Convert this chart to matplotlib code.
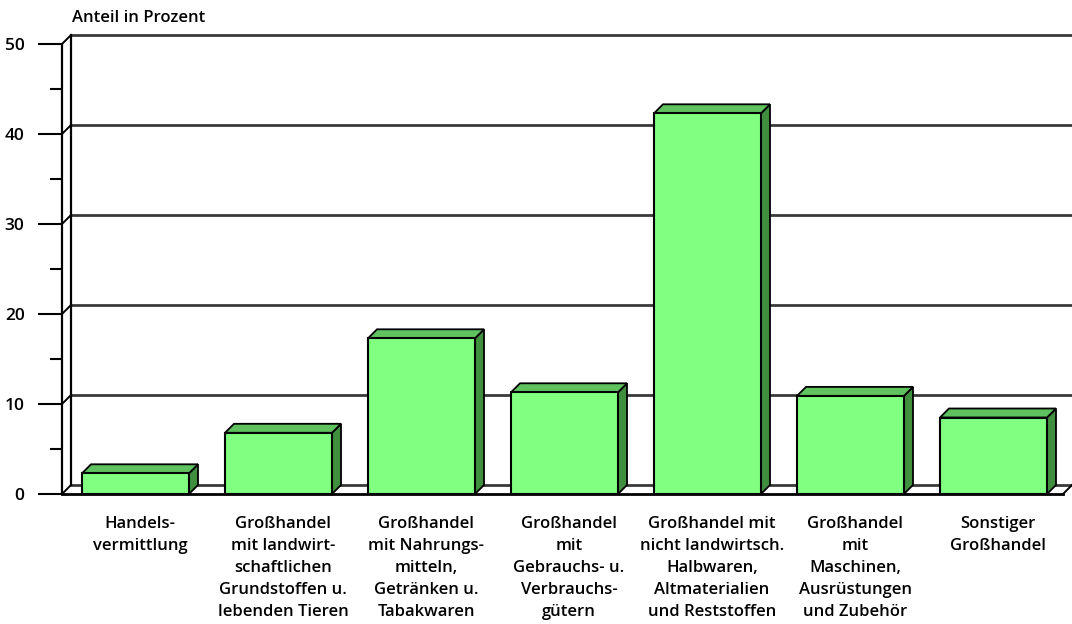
import numpy as np
import matplotlib
matplotlib.use('Agg')
import matplotlib.pyplot as plt
from matplotlib.patches import Polygon, Rectangle

# Anteil in Prozent je Großhandelszweig
categories = [
    'Handels-\nvermittlung',
    'Großhandel\nmit landwirt-\nschaftlichen\nGrundstoffen u.\nlebenden Tieren',
    'Großhandel\nmit Nahrungs-\nmitteln,\nGetränken u.\nTabakwaren',
    'Großhandel\nmit\nGebrauchs- u.\nVerbrauchs-\ngütern',
    'Großhandel mit\nnicht landwirtsch.\nHalbwaren,\nAltmaterialien\nund Reststoffen',
    'Großhandel\nmit\nMaschinen,\nAusrüstungen\nund Zubehör',
    'Sonstiger\nGroßhandel',
]
values = [2.3, 6.8, 17.3, 11.3, 42.3, 10.9, 8.5]
yticks = [0, 10, 20, 30, 40, 50]

plt.rcParams['font.family'] = ['Open Sans', 'DejaVu Sans']

W, H = 1072, 624
fig = plt.figure(figsize=(W / 100, H / 100), dpi=100)
unit = 143.0                     # px per category
x0_px, y0_px, ypx = 62, 494, 9.0  # origin and px per percent
xmax = (W - x0_px) / unit
ax = fig.add_axes([x0_px / W, (H - y0_px) / H, (W - x0_px) / W, 50 * ypx / H])
ax.set_xlim(0, xmax)
ax.set_ylim(0, 50)

# depth offset of the 3d look
dx = 9 / unit
dy = 1.0

n = len(values)
grid_c = '#3a3a3a'

# left wall and grid lines
ax.plot([dx, dx], [dy, 50 + dy], color='black', lw=1.6, clip_on=False)
for v in yticks:
    ax.plot([0, dx], [v, v + dy], color='black', lw=1.4, clip_on=False)
    ax.plot([dx, xmax], [v + dy, v + dy], color=grid_c, lw=2.0, clip_on=False, zorder=1)

# floor
ax.plot([0, n], [0, 0], color='black', lw=2.0, clip_on=False, zorder=2)
ax.plot([n, n + dx], [0, dy], color='black', lw=1.4, clip_on=False, zorder=2)

# bars
off, bw = 20 / unit, 107 / unit
for i, v in enumerate(values):
    x0 = i + off
    x1 = x0 + bw
    side = Polygon([(x1, 0), (x1 + dx, dy), (x1 + dx, v + dy), (x1, v)],
                   closed=True, fc='#3f8f3f', ec='black', lw=1.3, zorder=3, clip_on=False)
    top = Polygon([(x0, v), (x1, v), (x1 + dx, v + dy), (x0 + dx, v + dy)],
                  closed=True, fc='#5fc25f', ec='black', lw=1.3, zorder=3, clip_on=False)
    front = Rectangle((x0, 0), bw, v, fc='#80ff80', ec='black', lw=1.5, zorder=4, clip_on=False)
    ax.add_patch(side)
    ax.add_patch(top)
    ax.add_patch(front)
    ax.text(x0 + bw / 2 + dx / 2, -2.5, categories[i], ha='center', va='top',
            fontsize=12, fontweight='semibold', linespacing=1.5, clip_on=False)

# axis
for s in ['top', 'right', 'bottom']:
    ax.spines[s].set_visible(False)
ax.spines['left'].set_linewidth(1.6)
ax.set_xticks([])
ax.set_yticks(yticks)
ax.set_yticks(np.arange(5, 50, 10), minor=True)
ax.tick_params(axis='y', which='major', length=17, width=1.5, pad=10, labelsize=12.5)
ax.tick_params(axis='y', which='minor', length=9, width=1.5)
for lab in ax.get_yticklabels():
    lab.set_fontweight('semibold')

fig.text(72 / W, 1 - 18 / H, 'Anteil in Prozent', ha='left', va='center',
         fontsize=12, fontweight='semibold')

fig.savefig('out.png', dpi=100)
